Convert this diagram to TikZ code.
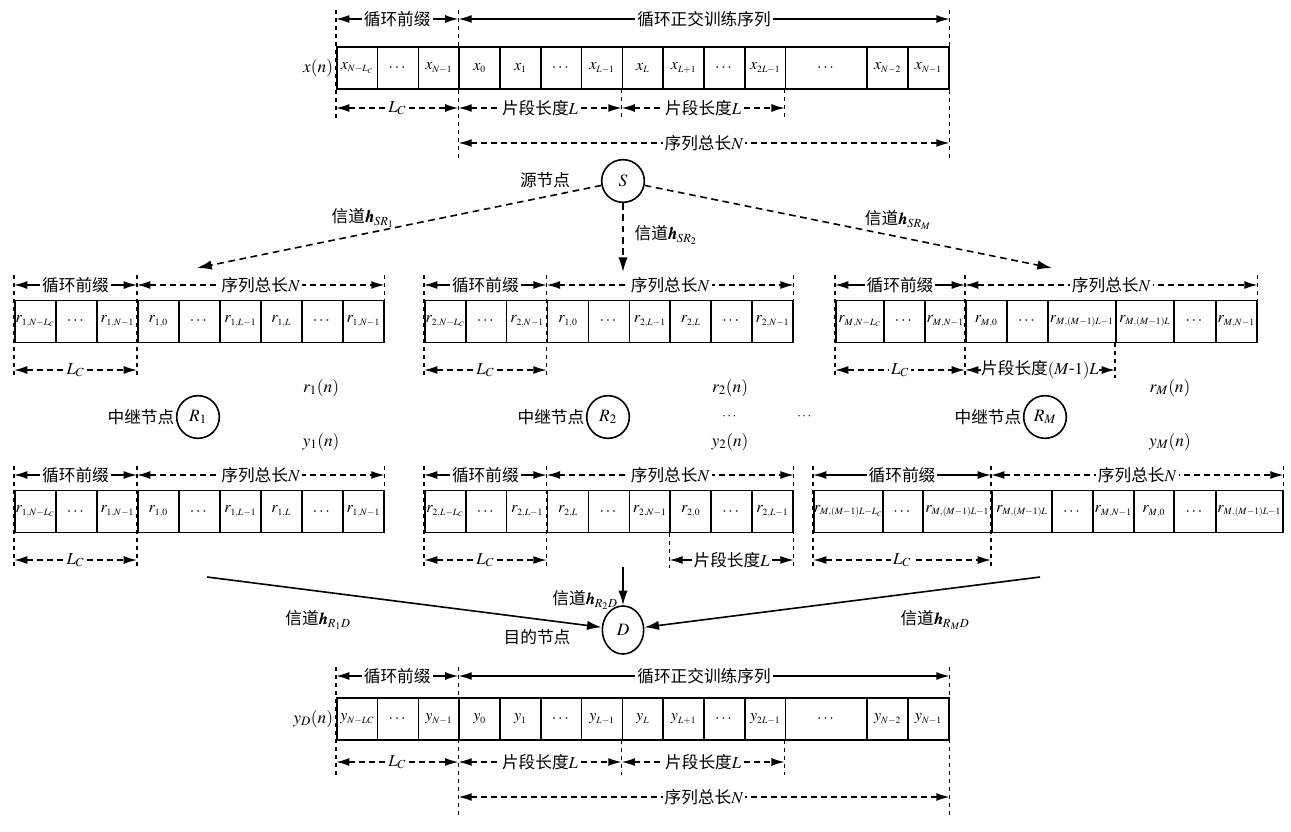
\documentclass[tikz,border=0pt]{standalone}
\usepackage{amsmath}
\usepackage{mathptmx}
\usepackage{bm}
\usepackage{fontspec}
\setmainfont{Liberation Serif}
\newfontfamily\cjk{Noto Sans CJK SC}
\DeclareMathSizes{12}{12}{7.2}{5.2}
\usetikzlibrary{arrows.meta,shapes.geometric}
\tikzset{
  >={Latex[length=10pt,width=6pt]},
  % --- cells and nodes
  cell/.style = {draw, line width=1.2pt, anchor=west, inner sep=0pt,
                 minimum height=31.5pt, font=\fontsize{12}{14}\selectfont},
  nd/.style   = {circle, draw, line width=1.2pt, minimum size=32pt, inner sep=0pt,
                 font=\fontsize{13}{15}\selectfont},
  mth/.style  = {font=\fontsize{13}{15}\selectfont},
  txt/.style  = {font=\cjk\fontsize{12.5}{14}\selectfont, inner sep=1pt},
  lbl/.style  = {txt, fill=white, inner sep=1.5pt},
  % --- dimension lines
  tick/.style = {line width=1pt, dash pattern=on 3pt off 3pt},
  dims/.style = {<->, line width=1.1pt},
  dimd/.style = {dims, dash pattern=on 4.5pt off 3pt},
  % --- channels
  ch/.style   = {-{Latex[length=11pt,width=7pt]}, line width=1.2pt},
  chd/.style  = {ch, dash pattern=on 5pt off 3.5pt},
}
\begin{document}
\begin{tikzpicture}[x=0.75pt,y=-0.75pt]
  \useasboundingbox (0,0) rectangle (1291,831);

  % source sequence x(n)
  \foreach \x/\w/\t [count=\i] in {336/40.8/{$x_{N-L_C}$}, 376.8/40.8/{$\cdots$},
      417.6/40.8/{$x_{N-1}$}, 458.4/40.8/{$x_0$}, 499.2/40.8/{$x_1$}, 540/40.8/{$\cdots$},
      580.8/40.8/{$x_{L-1}$}, 621.6/40.8/{$x_L$}, 662.4/40.8/{$x_{L+1}$}, 703.2/40.8/{$\cdots$},
      744/40.8/{$x_{2L-1}$}, 784.8/81.6/{$\cdots$}, 866.4/40.8/{$x_{N-2}$}, 907.2/40.8/{$x_{N-1}$}}
    \node[cell, minimum width=\w*0.75pt] (x\i) at (\x,68) {\t};
  \node[mth, anchor=east, inner sep=2pt] (xn) at (x1.west) {$x(n)$};
  \draw[tick] (x1.west |- 0,10) -- (x1.west |- 0,118);
  \draw[tick] (x4.west |- 0,10) -- (x4.west |- 0,158);
  \draw[tick] (x14.east |- 0,10) -- (x14.east |- 0,158);
  \draw[tick] (x8.west |- 0,89) -- (x8.west |- 0,118);
  \draw[tick] (x12.west |- 0,89) -- (x12.west |- 0,118);
  \draw[dims] (x1.west |- 0,19) -- node[lbl] {循环前缀} (x4.west |- 0,19);
  \draw[dims] (x4.west |- 0,19) -- node[lbl] {循环正交训练序列} (x14.east |- 0,19);
  \draw[dimd] (x1.west |- 0,108) -- node[lbl] {$L_C$} (x4.west |- 0,108);
  \draw[dimd] (x4.west |- 0,108) -- node[lbl] {片段长度$L$} (x8.west |- 0,108);
  \draw[dimd] (x8.west |- 0,108) -- node[lbl] {片段长度$L$} (x12.west |- 0,108);
  \draw[dimd] (x4.west |- 0,143) -- node[lbl] {序列总长$N$} (x14.east |- 0,143);

  % source node
  \node[nd] (S) at (623,181) {$S$};
  \node[txt] (Sl) at (545,180) {源节点};

  % relay 1
  \foreach \t [count=\i] in {{$r_{1,N-L_C}$}, {$\cdots$}, {$r_{1,N-1}$}, {$r_{1,0}$}, {$\cdots$},
      {$r_{1,L-1}$}, {$r_{1,L}$}, {$\cdots$}, {$r_{1,N-1}$}} {
    \node[cell, minimum width=30.75pt] (ua\i) at (14+41*\i-41,321.5) {\t};
    \node[cell, minimum width=30.75pt] (la\i) at (14+41*\i-41,511.5) {\t};
  }
  \draw[tick] (ua1.west |- 0,275) -- (ua1.west |- 0,378);
  \draw[tick] (ua4.west |- 0,275) -- (ua4.west |- 0,378);
  \draw[tick] (ua9.east |- 0,275) -- (ua9.east |- 0,300);
  \draw[dims] (ua1.west |- 0,285) -- node[lbl] {循环前缀} (ua4.west |- 0,285);
  \draw[dimd] (ua4.west |- 0,285) -- node[lbl] {序列总长$N$} (ua9.east |- 0,285);
  \draw[dimd] (ua1.west |- 0,370) -- node[lbl] {$L_C$} (ua4.west |- 0,370);
  \draw[tick] (la1.west |- 0,466) -- (la1.west |- 0,568);
  \draw[tick] (la4.west |- 0,466) -- (la4.west |- 0,568);
  \draw[tick] (la9.east |- 0,466) -- (la9.east |- 0,490);
  \draw[dims] (la1.west |- 0,475) -- node[lbl] {循环前缀} (la4.west |- 0,475);
  \draw[dimd] (la4.west |- 0,475) -- node[lbl] {序列总长$N$} (la9.east |- 0,475);
  \draw[dimd] (la1.west |- 0,560) -- node[lbl] {$L_C$} (la4.west |- 0,560);
  \node[nd] (R1) at (198,417) {$R_1$};
  \node[txt, anchor=east] (R1l) at (R1.west) {中继节点};
  \node[mth] (r1n) at (321,388) {$r_1(n)$};
  \node[mth] (y1n) at (321,442) {$y_1(n)$};

  % relay 2
  \foreach \t [count=\i] in {{$r_{2,N-L_C}$}, {$\cdots$}, {$r_{2,N-1}$}, {$r_{1,0}$}, {$\cdots$},
      {$r_{2,L-1}$}, {$r_{2,L}$}, {$\cdots$}, {$r_{2,N-1}$}}
    \node[cell, minimum width=30.7pt] (ub\i) at (424+40.9*\i-40.9,321.5) {\t};
  \foreach \t [count=\i] in {{$r_{2,L-L_C}$}, {$\cdots$}, {$r_{2,L-1}$}, {$r_{2,L}$}, {$\cdots$},
      {$r_{2,N-1}$}, {$r_{2,0}$}, {$\cdots$}, {$r_{2,L-1}$}}
    \node[cell, minimum width=30.7pt] (lb\i) at (424+40.9*\i-40.9,511.5) {\t};
  \draw[tick] (ub1.west |- 0,275) -- (ub1.west |- 0,378);
  \draw[tick] (ub4.west |- 0,275) -- (ub4.west |- 0,378);
  \draw[tick] (ub9.east |- 0,275) -- (ub9.east |- 0,300);
  \draw[dims] (ub1.west |- 0,285) -- node[lbl] {循环前缀} (ub4.west |- 0,285);
  \draw[dimd] (ub4.west |- 0,285) -- node[lbl] {序列总长$N$} (ub9.east |- 0,285);
  \draw[dimd] (ub1.west |- 0,370) -- node[lbl] {$L_C$} (ub4.west |- 0,370);
  \draw[tick] (lb1.west |- 0,466) -- (lb1.west |- 0,568);
  \draw[tick] (lb4.west |- 0,466) -- (lb4.west |- 0,568);
  \draw[tick] (lb9.east |- 0,466) -- (lb9.east |- 0,568);
  \draw[tick] (lb7.west |- 0,533) -- (lb7.west |- 0,568);
  \draw[dims] (lb1.west |- 0,475) -- node[lbl] {循环前缀} (lb4.west |- 0,475);
  \draw[dimd] (lb4.west |- 0,475) -- node[lbl] {序列总长$N$} (lb9.east |- 0,475);
  \draw[dimd] (lb1.west |- 0,560) -- node[lbl] {$L_C$} (lb4.west |- 0,560);
  \draw[dims] (lb7.west |- 0,560) -- node[lbl] {片段长度$L$} (lb9.east |- 0,560);
  \node[nd] (R2) at (608,417) {$R_2$};
  \node[txt, anchor=east] (R2l) at (R2.west) {中继节点};
  \node[mth] (r2n) at (730,388) {$r_2(n)$};
  \node (r2d) at (730,417) {$\cdots$};
  \node[mth] (y2n) at (730,442) {$y_2(n)$};
  \node (rd) at (805,417) {$\cdots$};

  % relay M
  \foreach \x/\w/\t [count=\i] in {835/48/{$r_{M,N-L_C}$}, 883/41/{$\cdots$}, 924/41/{$r_{M,N-1}$},
      965/41/{$r_{M,0}$}, 1006/41/{$\cdots$}, 1047/68/{$r_{M,(M-1)L-1}$}, 1115/58/{$r_{M,(M-1)L}$},
      1173/42/{$\cdots$}, 1215/41/{$r_{M,N-1}$}}
    \node[cell, minimum width=\w*0.75pt] (um\i) at (\x,321.5) {\t};
  \foreach \x/\w/\t [count=\i] in {813/69/{$r_{M,(M-1)L-L_C}$}, 882/40/{$\cdots$},
      922/69/{$r_{M,(M-1)L-1}$}, 991/60/{$r_{M,(M-1)L}$}, 1051/41/{$\cdots$}, 1092/41/{$r_{M,N-1}$},
      1133/40/{$r_{M,0}$}, 1173/42/{$\cdots$}, 1215/67/{$r_{M,(M-1)L-1}$}}
    \node[cell, minimum width=\w*0.75pt] (lm\i) at (\x,511.5) {\t};
  \draw[tick] (um1.west |- 0,275) -- (um1.west |- 0,378);
  \draw[tick] (um4.west |- 0,275) -- (um4.west |- 0,378);
  \draw[tick] (um9.east |- 0,275) -- (um9.east |- 0,300);
  \draw[tick] (um7.west |- 0,343) -- (um7.west |- 0,378);
  \draw[dims] (um1.west |- 0,285) -- node[lbl] {循环前缀} (um4.west |- 0,285);
  \draw[dimd] (um4.west |- 0,285) -- node[lbl] {序列总长$N$} (um9.east |- 0,285);
  \draw[dimd] (um1.west |- 0,370) -- node[lbl] {$L_C$} (um4.west |- 0,370);
  \draw[dims] (um4.west |- 0,370) -- node[lbl, inner sep=0.5pt] {片段长度$(M\text{-}1)L$} (um7.west |- 0,370);
  \draw[tick] (lm1.west |- 0,466) -- (lm1.west |- 0,568);
  \draw[tick] (lm4.west |- 0,466) -- (lm4.west |- 0,568);
  \draw[tick] (lm9.east |- 0,466) -- (lm9.east |- 0,490);
  \draw[dims] (lm1.west |- 0,475) -- node[lbl] {循环前缀} (lm4.west |- 0,475);
  \draw[dimd] (lm4.west |- 0,475) -- node[lbl] {序列总长$N$} (lm9.east |- 0,475);
  \draw[dimd] (lm1.west |- 0,560) -- node[lbl] {$L_C$} (lm4.west |- 0,560);
  \node[nd] (RM) at (1045,417) {$R_M$};
  \node[txt, anchor=east] (RMl) at (RM.west) {中继节点};
  \node[mth] (rMn) at (1170,388) {$r_M(n)$};
  \node[mth] (yMn) at (1170,442) {$y_M(n)$};

  % source -> relays
  \coordinate (s1) at (197,268);
  \coordinate (s2) at (623,272);
  \coordinate (sM) at (1052,268);
  \draw[chd] (S) -- (s1);
  \draw[chd] (S) -- (s2);
  \draw[chd] (S) -- (sM);
  \node[txt] (h1) at (363,218) {信道$\bm{h}_{SR_1}$};
  \node[txt, anchor=west] (h2) at (633,235) {信道$\bm{h}_{SR_2}$};
  \node[txt] (hM) at (898,220) {信道$\bm{h}_{SR_M}$};

  % relays -> destination
  \node[ellipse, draw, line width=1.2pt, minimum width=31pt, minimum height=36pt, inner sep=0pt,
        font=\fontsize{13}{15}\selectfont] (D) at (623,630) {$D$};
  \node[txt] (Dl) at (537,637) {目的节点};
  \coordinate (d1) at (207,577);
  \coordinate (d2) at (623,567);
  \coordinate (dM) at (1040,577);
  \draw[ch] (d1) -- (D);
  \draw[ch] (d2) -- (D);
  \draw[ch] (dM) -- (D);
  \node[txt] (g1) at (318,620) {信道$\bm{h}_{R_1D}$};
  \node[txt] (g2) at (585,600) {信道$\bm{h}_{R_2D}$};
  \node[txt] (gM) at (935,620) {信道$\bm{h}_{R_MD}$};

  % destination sequence y_D(n)
  \foreach \x/\w/\t [count=\i] in {336/40.8/{$y_{N-LC}$}, 376.8/40.8/{$\cdots$},
      417.6/40.8/{$y_{N-1}$}, 458.4/40.8/{$y_0$}, 499.2/40.8/{$y_1$}, 540/40.8/{$\cdots$},
      580.8/40.8/{$y_{L-1}$}, 621.6/40.8/{$y_L$}, 662.4/40.8/{$y_{L+1}$}, 703.2/40.8/{$\cdots$},
      744/40.8/{$y_{2L-1}$}, 784.8/81.6/{$\cdots$}, 866.4/40.8/{$y_{N-2}$}, 907.2/40.8/{$y_{N-1}$}}
    \node[cell, minimum width=\w*0.75pt] (y\i) at (\x,719) {\t};
  \node[mth, anchor=east, inner sep=2pt] (yn) at (y1.west) {$y_D(n)$};
  \draw[tick] (y1.west |- 0,667) -- (y1.west |- 0,775);
  \draw[tick] (y4.west |- 0,667) -- (y4.west |- 0,815);
  \draw[tick] (y14.east |- 0,667) -- (y14.east |- 0,815);
  \draw[tick] (y8.west |- 0,740) -- (y8.west |- 0,775);
  \draw[tick] (y12.west |- 0,740) -- (y12.west |- 0,775);
  \draw[dims] (y1.west |- 0,676) -- node[lbl] {循环前缀} (y4.west |- 0,676);
  \draw[dims] (y4.west |- 0,676) -- node[lbl] {循环正交训练序列} (y14.east |- 0,676);
  \draw[dimd] (y1.west |- 0,762) -- node[lbl] {$L_C$} (y4.west |- 0,762);
  \draw[dimd] (y4.west |- 0,762) -- node[lbl] {片段长度$L$} (y8.west |- 0,762);
  \draw[dimd] (y8.west |- 0,762) -- node[lbl] {片段长度$L$} (y12.west |- 0,762);
  \draw[dimd] (y4.west |- 0,797) -- node[lbl] {序列总长$N$} (y14.east |- 0,797);
\end{tikzpicture}
\end{document}
